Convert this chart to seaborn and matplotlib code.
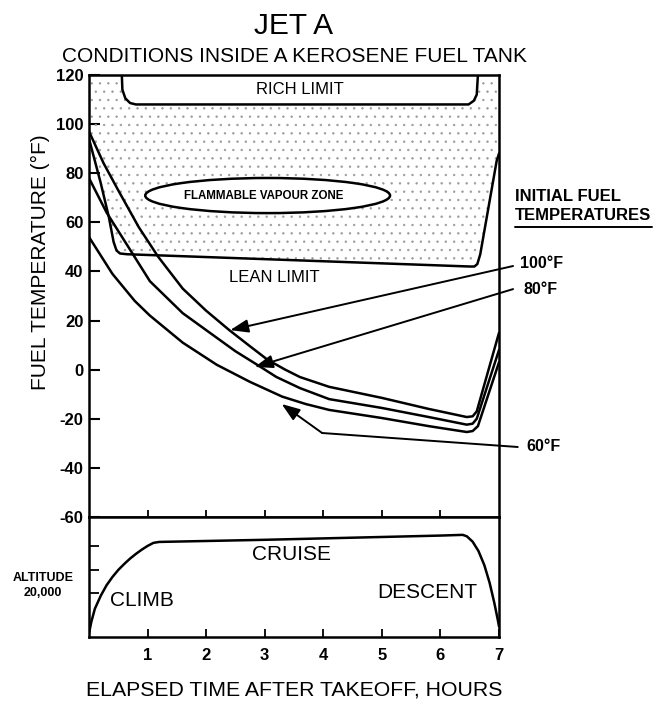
#! /usr/bin/env python3

import numpy as np
import pandas as pd
import seaborn as sns
import matplotlib
matplotlib.use('Agg')

import matplotlib.pyplot as plt
from matplotlib.patches import Ellipse

# fuel temperature curves (deg F) vs hours after takeoff
t_100 = [0, 0.25, 0.5, 0.85, 1.18, 1.6, 2.0, 2.4, 2.75, 3.05, 3.35, 3.6, 4.1, 5.0, 5.8, 6.45, 6.55, 6.62, 7.0]
temp_100 = [97, 84, 73, 58, 46, 33, 24, 16, 9.5, 4, 0, -3, -7, -11.5, -16, -19.3, -19, -17, 15]

t_80 = [0, 0.3, 0.75, 1.04, 1.6, 2.18, 2.5, 2.87, 3.2, 3.6, 4.1, 5.0, 5.8, 6.45, 6.55, 6.62, 7.0]
temp_80 = [78, 64, 47, 36, 23, 13, 7.5, 2, -3, -7.5, -12, -15.6, -19.3, -22.4, -22, -20, 8]

t_60 = [0, 0.4, 0.78, 1.04, 1.6, 2.18, 2.75, 3.3, 3.7, 4.1, 5.0, 5.8, 6.45, 6.55, 6.64, 7.0]
temp_60 = [54, 39, 28, 22, 11, 2, -5, -11, -14, -16.4, -19.7, -23, -25.4, -25, -23, 3]

# lean and rich limits of the flammable zone
t_lean = [0, 0.2, 0.34, 0.42, 0.47, 0.53, 0.65, 3.0, 6.5, 6.58, 6.63, 6.68, 6.96, 7.0]
temp_lean = [94, 76, 62, 52, 48.5, 47.3, 47, 45, 42, 42, 43, 47, 85, 88]
t_rich = [0.56, 0.57, 0.62, 0.7, 0.8, 6.48, 6.57, 6.62, 6.64]
temp_rich = [120, 114, 110.5, 108.6, 108, 108, 109.5, 112, 120]

# altitude profile (thousands of ft)
t_alt = [0, 0.04, 0.1, 0.2, 0.3, 0.4, 0.5, 0.6, 0.7, 0.8, 0.9, 1.0, 1.1, 1.2, 2, 3, 4, 5, 6,
         6.38, 6.45, 6.55, 6.65, 6.75, 6.84, 6.92, 6.98, 7.0]
alt = [3, 8, 13.5, 19, 23.5, 27, 30, 32.5, 34.8, 36.8, 38.6, 40.2, 41.5, 41.9, 42.3, 42.8, 43.4,
       44, 44.6, 44.9, 44.3, 42, 38, 32, 24.5, 16, 8.7, 6]

hours = [1, 2, 3, 4, 5, 6, 7]
temp_ticks = [-60, -40, -20, 0, 20, 40, 60, 80, 100, 120]
alt_ticks = [20, 30, 40]

sns.set_style('ticks')
plt.rcParams['font.family'] = ['Liberation Sans', 'DejaVu Sans']
plt.rcParams['axes.unicode_minus'] = False
plt.rcParams['hatch.linewidth'] = 0.5
for key in ['text.color', 'axes.labelcolor', 'xtick.color', 'ytick.color', 'axes.edgecolor']:
    plt.rcParams[key] = 'black'

fig = plt.figure(figsize=(6.54, 7.08), dpi=100)
ax = fig.add_axes([0.1361, 0.2698, 0.6269, 0.6243])
ax2 = fig.add_axes([0.1361, 0.1003, 0.6269, 0.1695])

lw = 1.8

# flammable zone: stippled between lean limit and rich limit / top
zone_t = t_lean + [7.0] + t_rich[::-1] + [0]
zone_T = temp_lean + [120] + temp_rich[::-1] + [120]
ax.fill(zone_t, zone_T, facecolor='none', edgecolor='#9c9c9c', hatch='..', linewidth=0, zorder=1)

sns.lineplot(x=t_lean, y=temp_lean, sort=False, estimator=None, color='black', lw=lw, ax=ax)
sns.lineplot(x=t_rich, y=temp_rich, sort=False, estimator=None, color='black', lw=lw, ax=ax)

for tt, yy in [(t_100, temp_100), (t_80, temp_80), (t_60, temp_60)]:
    sns.lineplot(x=tt, y=yy, sort=False, estimator=None, color='black', lw=lw, ax=ax)

ell = Ellipse((3.05, 70.9), 4.18, 14.3, facecolor='white', edgecolor='black', lw=lw, zorder=3)
ax.add_patch(ell)
ax.text(2.98, 70.6, 'FLAMMABLE VAPOUR ZONE', ha='center', va='center', fontsize=8.3,
        fontweight='bold', zorder=4)
ax.text(3.6, 113.9, 'RICH LIMIT', ha='center', va='center', fontsize=12)
ax.text(3.17, 37.7, 'LEAN LIMIT', ha='center', va='center', fontsize=12)

# arrows to the initial fuel temperature curves
arrow = dict(arrowstyle='-|>,head_length=0.55,head_width=0.2', color='black', lw=1.4,
             mutation_scale=20, shrinkA=0, shrinkB=0)
ax.annotate('', xy=(2.41, 16.1), xytext=(7.24, 42.2), arrowprops=arrow, annotation_clip=False)
ax.annotate('', xy=(2.83, 1.1), xytext=(7.24, 32.8), arrowprops=arrow, annotation_clip=False)
ax.plot([7.32, 3.98], [-31.5, -25.8], color='black', lw=1.4, clip_on=False)
ax.annotate('', xy=(3.29, -14), xytext=(3.98, -25.8), arrowprops=arrow, annotation_clip=False)

ax.text(7.36, 43.4, '100°F', ha='left', va='center', fontsize=11.5, fontweight='bold')
ax.text(7.41, 32.8, '80°F', ha='left', va='center', fontsize=11.5, fontweight='bold')
ax.text(7.47, -31.5, '60°F', ha='left', va='center', fontsize=11.5, fontweight='bold')
ax.text(7.27, 70.7, 'INITIAL FUEL', ha='left', va='center', fontsize=12, fontweight='bold')
ax.text(7.27, 62.6, 'TEMPERATURES', ha='left', va='center', fontsize=12, fontweight='bold')
ax.plot([7.27, 9.62], [58.0, 58.0], color='black', lw=1.4, clip_on=False)

ax.set_xlim(0, 7)
ax.set_ylim(-60, 120)
ax.set_yticks(temp_ticks)
ax.set_xticks(hours[:-1])
ax.set_xticklabels([])
ax.set_xlabel('')
ax.set_ylabel('')
ax.tick_params(axis='y', direction='in', length=8, width=1.5, labelsize=12, pad=4)
ax.tick_params(axis='x', direction='in', length=5, width=1.3)
for lab in ax.get_yticklabels():
    lab.set_fontweight('bold')

# altitude panel
sns.lineplot(x=t_alt, y=alt, sort=False, estimator=None, color='black', lw=lw, ax=ax2)
ax2.set_xlim(0, 7)
ax2.set_ylim(1.5, 52.5)
ax2.set_yticks(alt_ticks)
ax2.set_yticklabels([])
ax2.set_xticks(hours)
ax2.set_xticklabels([str(h) for h in hours])
ax2.set_xlabel('')
ax2.set_ylabel('')
ax2.tick_params(axis='y', direction='in', length=7, width=1.3)
ax2.tick_params(axis='x', direction='in', length=6, width=1.3, labelsize=12, pad=8)
for lab in ax2.get_xticklabels():
    lab.set_fontweight('bold')
ax2.text(3.45, 36.4, 'CRUISE', ha='center', va='center', fontsize=15)
ax2.text(0.9, 17.2, 'CLIMB', ha='center', va='center', fontsize=15)
ax2.text(5.77, 20.6, 'DESCENT', ha='center', va='center', fontsize=15)

for a in (ax, ax2):
    for s in a.spines.values():
        s.set_visible(True)
        s.set_linewidth(1.8)

fig.text(43 / 654, 1 - 578 / 708, 'ALTITUDE', ha='center', va='center', fontsize=9, fontweight='bold')
fig.text(43 / 654, 1 - 593 / 708, '20,000', ha='center', va='center', fontsize=9, fontweight='bold')

fig.text(294 / 654, 1 - 26 / 708, 'JET A', ha='center', va='center', fontsize=21.5)
fig.text(294 / 654, 1 - 57 / 708, 'CONDITIONS INSIDE A KEROSENE FUEL TANK', ha='center',
         va='center', fontsize=15)
fig.text(40 / 654, 1 - 262 / 708, 'FUEL TEMPERATURE (°F)', ha='center', va='center',
         rotation=90, fontsize=15)
fig.text(294 / 654, 1 - 690 / 708, 'ELAPSED TIME AFTER TAKEOFF, HOURS', ha='center',
         va='center', fontsize=15.3)

fig.savefig('out.png', dpi=100, facecolor='white')
